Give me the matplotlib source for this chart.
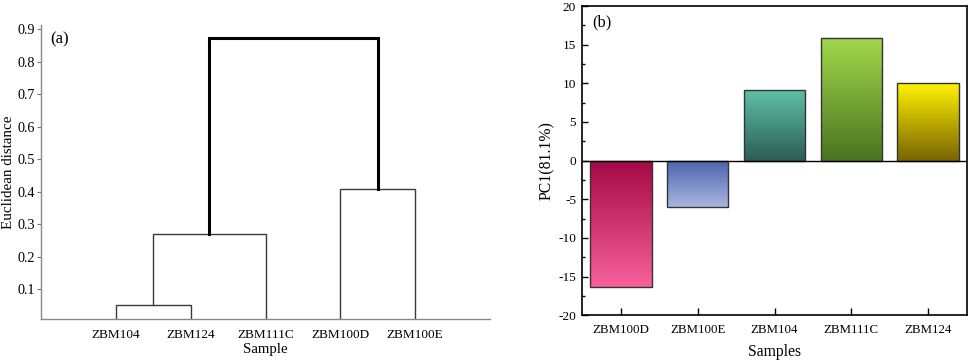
import numpy as np
import matplotlib
matplotlib.use("Agg")
import matplotlib.pyplot as plt
from matplotlib.colors import to_rgb
from matplotlib.ticker import MultipleLocator

plt.rcParams['font.family'] = ['Liberation Serif', 'DejaVu Serif']
plt.rcParams['axes.unicode_minus'] = False

# (a) dendrogram data
leaf_labels = ['ZBM104', 'ZBM124', 'ZBM111C', 'ZBM100D', 'ZBM100E']
# merges: (left node, right node, height); nodes 0-4 are leaves, 5+ are earlier merges
merges = [(0, 1, 0.05), (5, 2, 0.27), (3, 4, 0.407), (6, 7, 0.873)]

# (b) PC1 scores
samples = ['ZBM100D', 'ZBM100E', 'ZBM104', 'ZBM111C', 'ZBM124']
pc1 = [-16.3, -6.0, 9.1, 15.8, 10.0]
# colour at the zero line, colour at the bar end
dark_cols = ['#a30a45', '#4a63ad', '#2a5d54', '#4a7320', '#786400']
light_cols = ['#f9619c', '#aab6df', '#5fc0a6', '#a2d84b', '#fff200']


def main():
    fig = plt.figure(figsize=(9.69, 3.62), dpi=100)

    # ---------------- (a) ----------------
    ax1 = fig.add_axes([0.0423, 0.1188, 0.4634, 0.8121])
    xpos = {i: i + 1.0 for i in range(len(leaf_labels))}
    ypos = {i: 0.0 for i in range(len(leaf_labels))}
    n = len(leaf_labels)
    for k, (a, b, h) in enumerate(merges):
        last = (k == len(merges) - 1)
        col = 'black' if last else '#3a3a3a'
        lw = 2.2 if last else 1.0
        ax1.plot([xpos[a], xpos[a], xpos[b], xpos[b]],
                 [ypos[a], h, h, ypos[b]], color=col, lw=lw,
                 solid_joinstyle='miter', zorder=3 if last else 2)
        xpos[n + k] = (xpos[a] + xpos[b]) / 2
        ypos[n + k] = h

    ax1.set_xlim(0, 6)
    ax1.set_ylim(0.008, 0.913)
    ax1.set_xticks(range(1, n + 1))
    ax1.set_xticklabels(leaf_labels, fontsize=9.5)
    ax1.set_yticks(np.arange(0.1, 0.95, 0.1))
    ax1.set_yticklabels(['%.1f' % v for v in np.arange(0.1, 0.95, 0.1)], fontsize=10.2)
    ax1.tick_params(axis='x', length=0, pad=7)
    ax1.tick_params(axis='y', direction='out', length=3, width=0.8, color='#777777', pad=1.5)
    for s in ['top', 'right']:
        ax1.spines[s].set_visible(False)
    for s in ['left', 'bottom']:
        ax1.spines[s].set_color('#888888')
        ax1.spines[s].set_linewidth(1.0)
    ax1.set_xlabel('Sample', fontsize=10.6, labelpad=2)
    ax1.set_ylabel('Euclidean distance', fontsize=10.8)
    ax1.yaxis.set_label_coords(-0.058, 0.5)
    ax1.text(0.02, 0.952, '(a)', transform=ax1.transAxes, fontsize=12, va='center')

    # ---------------- (b) ----------------
    ax2 = fig.add_axes([0.6003, 0.1290, 0.3980, 0.8544])
    x = np.arange(len(samples))
    bars = ax2.bar(x, pc1, width=0.8, facecolor='none', edgecolor='#333333',
                   linewidth=1.0, zorder=3)
    for bar, v, c0, c1 in zip(bars, pc1, dark_cols, light_cols):
        t = np.linspace(0, 1, 256)[:, None]
        grad = (1 - t) * np.array(to_rgb(c0)) + t * np.array(to_rgb(c1))
        grad = grad[:, None, :]
        l = bar.get_x()
        r = l + bar.get_width()
        im = ax2.imshow(grad, extent=(l, r, 0, v), origin='lower',
                        aspect='auto', zorder=2, interpolation='bilinear')
        im.set_clip_path(bar)

    ax2.axhline(0, color='black', lw=1.0, zorder=4)
    ax2.set_xlim(-0.51, len(samples) - 0.49)
    ax2.set_ylim(-20, 20)
    ax2.set_xticks(x)
    ax2.set_xticklabels(samples, fontsize=9.3)
    ax2.yaxis.set_major_locator(MultipleLocator(5))
    ax2.yaxis.set_minor_locator(MultipleLocator(2.5))
    for lab in ax2.get_yticklabels():
        lab.set_fontsize(9.6)
    ax2.tick_params(axis='x', direction='in', length=5, width=1.0, pad=6)
    ax2.tick_params(axis='y', which='major', direction='in', length=4, width=1.0, pad=4)
    ax2.tick_params(axis='y', which='minor', direction='in', length=2, width=1.0)
    for s in ax2.spines.values():
        s.set_linewidth(1.2)
    ax2.set_xlabel('Samples', fontsize=11.3, labelpad=6)
    ax2.set_ylabel('PC1(81.1%)', fontsize=11.3, labelpad=2.5)
    ax2.text(0.028, 0.946, '(b)', transform=ax2.transAxes, fontsize=11.8, va='center')

    fig.savefig('out.png', dpi=100)


if __name__ == "__main__":
    main()
